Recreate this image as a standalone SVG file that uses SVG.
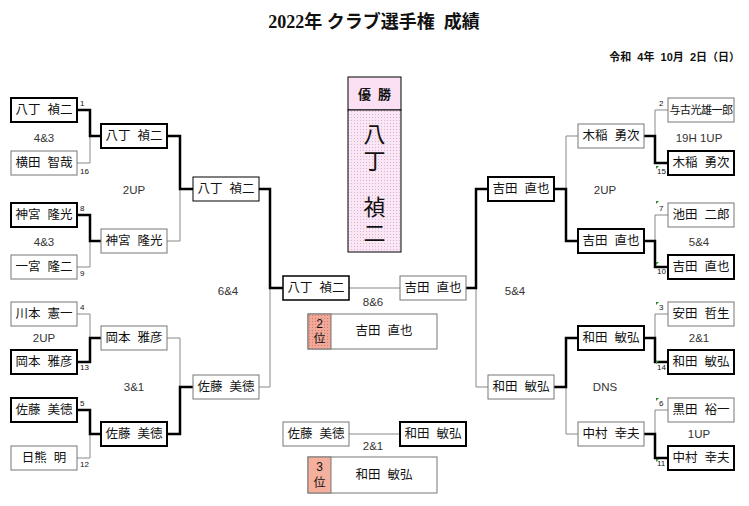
<svg xmlns="http://www.w3.org/2000/svg" width="749" height="506" viewBox="0 0 749 506">
<defs>
<style>
text{font-family:"Liberation Sans","Noto Sans CJK JP",sans-serif;fill:#111}
.n{font-size:12.5px;text-anchor:middle;dominant-baseline:central}
.s{font-size:11.5px;text-anchor:middle;dominant-baseline:central;fill:#333}
.sd{font-size:8px;fill:#111}
.w{fill:#fff;stroke:#000;stroke-width:2}
.l{fill:#fff;stroke:#777;stroke-width:1}
.tk{fill:none;stroke:#000;stroke-width:2.5}
.tn{fill:none;stroke:#888;stroke-width:1}
.mk{fill:#2a8a2a}
</style>
<pattern id="dots" width="3" height="3" patternUnits="userSpaceOnUse"><rect width="3" height="3" fill="#fbe6f6"/><rect width="1" height="1" fill="#d9b6cf"/></pattern>
<pattern id="dots2" width="3" height="3" patternUnits="userSpaceOnUse"><rect width="3" height="3" fill="#f2a898"/><rect width="1" height="1" fill="#c88070"/></pattern>
</defs>
<rect width="749" height="506" fill="#fff"/>
<text x="374" y="22" style="font-family:'Liberation Serif','Noto Sans CJK JP',serif;font-size:18px;font-weight:bold;text-anchor:middle;dominant-baseline:central">2022年 クラブ選手権&#160;&#160;成績</text>
<text x="740" y="57" style="font-size:11px;font-weight:bold;text-anchor:end;dominant-baseline:central">令和&#160;&#160;4年&#160;&#160;10月&#160;&#160;2日（日）</text>

<g id="connectors">
<path class="tn" d="M77 163H90V136M77 267H90V241M77 314H90V338M77 458H90V434M167 241H180V189M167 338H180V387M259 387H270V288M349 288H400M668 110H655V136M668 215H655V241M668 314H655V338M668 410H655V434M578 136H566V189M578 434H566V387M488 387H476V288M349 434H400"/>
<path class="tk" d="M77 110H90V136H101M77 215H90V241H101M77 362H90V338H101M77 410H90V434H101M167 136H180V189H193M167 434H180V387H193M259 189H270V288H283M668 163H655V136H644M668 267H655V241H644M668 362H655V338H644M668 458H655V434H644M578 241H566V189H554M578 338H566V387H554M488 189H476V288H466"/>
</g>

<g id="seeds">
<text class="sd" x="80" y="106">1</text><text class="sd" x="80" y="174">16</text>
<text class="sd" x="80" y="211">8</text><text class="sd" x="80" y="276">9</text>
<text class="sd" x="80" y="310">4</text><text class="sd" x="80" y="370">13</text>
<text class="sd" x="80" y="406">5</text><text class="sd" x="80" y="467">12</text>
<text class="sd" x="659" y="106">2</text><text class="sd" x="657" y="174">15</text>
<text class="sd" x="659" y="211">7</text><text class="sd" x="657" y="274">10</text>
<text class="sd" x="659" y="310">3</text><text class="sd" x="657" y="370">14</text>
<text class="sd" x="659" y="406">6</text><text class="sd" x="657" y="466">11</text>
<polygon class="mk" points="656,166 659,166 656,169"/>
<polygon class="mk" points="656,201 659,201 656,204"/><polygon class="mk" points="656,262 659,262 656,265"/>
<polygon class="mk" points="656,302 659,302 656,305"/><polygon class="mk" points="656,361 659,361 656,364"/>
<polygon class="mk" points="656,398 659,398 656,401"/><polygon class="mk" points="656,459 659,459 656,462"/>
</g>

<g id="scores">
<text class="s" x="44" y="138">4&amp;3</text><text class="s" x="44" y="242">4&amp;3</text><text class="s" x="44" y="338">2UP</text>
<text class="s" x="134" y="190">2UP</text><text class="s" x="134" y="387">3&amp;1</text>
<text class="s" x="228" y="291">6&amp;4</text><text class="s" x="373" y="302">8&amp;6</text>
<text class="s" x="699" y="138">19H 1UP</text><text class="s" x="699" y="242">5&amp;4</text><text class="s" x="699" y="338">2&amp;1</text><text class="s" x="699" y="434">1UP</text>
<text class="s" x="605" y="190">2UP</text><text class="s" x="605" y="387">DNS</text>
<text class="s" x="515" y="291">5&amp;4</text><text class="s" x="373" y="446">2&amp;1</text>
</g>

<g id="L1"><rect class="w" x="11" y="98" width="66" height="24"/><text class="n" x="44" y="110">八丁&#160;&#160;禎二</text></g>
<g id="L2"><rect class="l" x="11" y="151" width="66" height="24"/><text class="n" x="44" y="163">横田&#160;&#160;智哉</text></g>
<g id="L3"><rect class="w" x="11" y="203" width="66" height="24"/><text class="n" x="44" y="215">神宮&#160;&#160;隆光</text></g>
<g id="L4"><rect class="l" x="11" y="255" width="66" height="24"/><text class="n" x="44" y="267">一宮&#160;&#160;隆二</text></g>
<g id="L5"><rect class="l" x="11" y="302" width="66" height="24"/><text class="n" x="44" y="314">川本&#160;&#160;憲一</text></g>
<g id="L6"><rect class="w" x="11" y="350" width="66" height="24"/><text class="n" x="44" y="362">岡本&#160;&#160;雅彦</text></g>
<g id="L7"><rect class="w" x="11" y="398" width="66" height="24"/><text class="n" x="44" y="410">佐藤&#160;&#160;美徳</text></g>
<g id="L8"><rect class="l" x="11" y="446" width="66" height="24"/><text class="n" x="44" y="458">日熊&#160;&#160;明</text></g>
<g id="L2a"><rect class="w" x="101" y="124" width="66" height="24"/><text class="n" x="134" y="136">八丁&#160;&#160;禎二</text></g>
<g id="L2b"><rect class="l" x="101" y="229" width="66" height="24"/><text class="n" x="134" y="241">神宮&#160;&#160;隆光</text></g>
<g id="L2c"><rect class="l" x="101" y="326" width="66" height="24"/><text class="n" x="134" y="338">岡本&#160;&#160;雅彦</text></g>
<g id="L2d"><rect class="w" x="101" y="422" width="66" height="24"/><text class="n" x="134" y="434">佐藤&#160;&#160;美徳</text></g>
<g id="L3a"><rect class="l" x="193" y="177" width="66" height="24" style="stroke:#000"/><text class="n" x="226" y="189">八丁&#160;&#160;禎二</text></g>
<g id="L3b"><rect class="l" x="193" y="375" width="66" height="24"/><text class="n" x="226" y="387">佐藤&#160;&#160;美徳</text></g>
<g id="F1"><rect class="l" x="283" y="276" width="66" height="24" style="stroke:#000;stroke-width:1.5"/><text class="n" x="316" y="288">八丁&#160;&#160;禎二</text></g>
<g id="F2"><rect class="l" x="400" y="276" width="66" height="24"/><text class="n" x="433" y="288">吉田&#160;&#160;直也</text></g>
<g id="T1"><rect class="l" x="283" y="422" width="66" height="24"/><text class="n" x="316" y="434">佐藤&#160;&#160;美徳</text></g>
<g id="T2"><rect class="w" x="400" y="422" width="66" height="24"/><text class="n" x="433" y="434">和田&#160;&#160;敏弘</text></g>

<g id="R1"><rect class="l" x="668" y="98" width="66" height="24"/><text class="n" x="701" y="110" style="font-size:11px;letter-spacing:-0.5px">与古光雄一郎</text></g>
<g id="R2"><rect class="w" x="668" y="151" width="66" height="24"/><text class="n" x="701" y="163">木稲&#160;&#160;勇次</text></g>
<g id="R3"><rect class="l" x="668" y="203" width="66" height="24"/><text class="n" x="701" y="215">池田&#160;&#160;二郎</text></g>
<g id="R4"><rect class="w" x="668" y="255" width="66" height="24"/><text class="n" x="701" y="267">吉田&#160;&#160;直也</text></g>
<g id="R5"><rect class="l" x="668" y="302" width="66" height="24"/><text class="n" x="701" y="314">安田&#160;&#160;哲生</text></g>
<g id="R6"><rect class="w" x="668" y="350" width="66" height="24"/><text class="n" x="701" y="362">和田&#160;&#160;敏弘</text></g>
<g id="R7"><rect class="l" x="668" y="398" width="66" height="24"/><text class="n" x="701" y="410">黒田&#160;&#160;裕一</text></g>
<g id="R8"><rect class="w" x="668" y="446" width="66" height="24"/><text class="n" x="701" y="458">中村&#160;&#160;幸夫</text></g>
<g id="R2a"><rect class="l" x="578" y="124" width="66" height="24"/><text class="n" x="611" y="136">木稲&#160;&#160;勇次</text></g>
<g id="R2b"><rect class="w" x="578" y="229" width="66" height="24"/><text class="n" x="611" y="241">吉田&#160;&#160;直也</text></g>
<g id="R2c"><rect class="w" x="578" y="326" width="66" height="24"/><text class="n" x="611" y="338">和田&#160;&#160;敏弘</text></g>
<g id="R2d"><rect class="l" x="578" y="422" width="66" height="24"/><text class="n" x="611" y="434">中村&#160;&#160;幸夫</text></g>
<g id="R3a"><rect class="w" x="488" y="177" width="66" height="24"/><text class="n" x="521" y="189">吉田&#160;&#160;直也</text></g>
<g id="R3b"><rect class="l" x="488" y="375" width="66" height="24"/><text class="n" x="521" y="387">和田&#160;&#160;敏弘</text></g>

<g id="champion">
<rect x="348" y="77" width="53" height="33" fill="#fbe0f4" stroke="#000" stroke-width="1"/>
<rect x="348" y="110" width="53" height="142" fill="url(#dots)" stroke="#000" stroke-width="1"/>
<text x="374.5" y="94" style="font-size:13px;font-weight:bold;text-anchor:middle;dominant-baseline:central">優&#160;&#160;勝</text>
<text class="n" x="374.5" y="134" style="font-size:22px">八</text>
<text class="n" x="374.5" y="161" style="font-size:22px">丁</text>
<text class="n" x="374.5" y="207" style="font-size:22px">禎</text>
<text class="n" x="374.5" y="233" style="font-size:22px">二</text>
</g>
<g id="second">
<rect x="308" y="314" width="129" height="35" fill="#fff" stroke="#777"/>
<rect x="308" y="314" width="23" height="35" fill="url(#dots2)" stroke="#777"/>
<text class="n" x="319.5" y="324" style="font-size:12px">2</text><text class="n" x="319.5" y="339" style="font-size:12px">位</text>
<text class="n" x="384" y="331">吉田&#160;&#160;直也</text>
</g>
<g id="third">
<rect x="308" y="457" width="129" height="36" fill="#fff" stroke="#777"/>
<rect x="308" y="457" width="23" height="36" fill="#f4b09c" stroke="#777"/>
<text class="n" x="319.5" y="467" style="font-size:12px">3</text><text class="n" x="319.5" y="483" style="font-size:12px">位</text>
<text class="n" x="384" y="475">和田&#160;&#160;敏弘</text>
</g>
</svg>
